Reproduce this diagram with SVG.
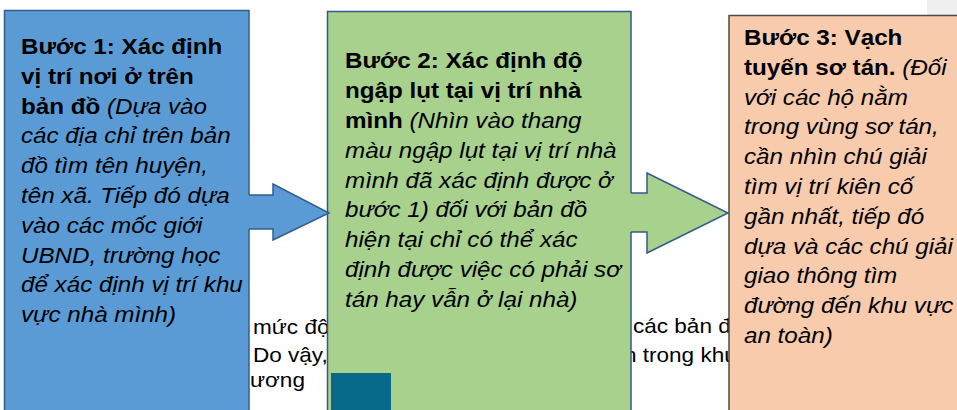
<svg xmlns="http://www.w3.org/2000/svg" width="957" height="410" viewBox="0 0 957 410">
<style>
text{font-family:"Liberation Sans",Arial,sans-serif;fill:#000}
.t{font-size:22px}
.bg{font-size:20.5px}
.b{font-weight:bold}
.i{font-style:italic}
.edge{stroke-width:1.5;stroke-linejoin:miter}
</style>
<rect width="957" height="410" fill="#ffffff"/>
<rect x="927" y="0" width="30" height="15" fill="#efefef"/>
<g id="background-text">
<g transform="translate(253,0) scale(1.1,1)"><text class="bg" x="0" y="334">mức độ</text><text class="bg" x="0" y="362">Do vậy,</text></g>
<g transform="translate(250,0) scale(1.1,1)"><text class="bg" x="0" y="387">ương</text></g>
<g transform="translate(633,0) scale(1.1,1)"><text class="bg" x="0" y="333">các bản đồ</text></g>
<g transform="translate(624,0) scale(1.1,1)"><text class="bg" x="0" y="362">n trong khu</text></g>
</g>
<g id="step1">
<rect x="4.5" y="10.5" width="244.5" height="410" fill="#5b9bd5" stroke="#2f5e8e" stroke-width="1.5"/>
<g transform="translate(21,0) scale(1.1,1)">
<text class="t"><tspan class="b" x="0" y="54">Bước 1: Xác định</tspan><tspan class="b" x="0" y="83.8">vị trí nơi ở trên</tspan><tspan x="0" y="113.6"><tspan class="b">bản đồ</tspan><tspan class="i"> (Dựa vào</tspan></tspan><tspan class="i" x="0" y="143.4">các địa chỉ trên bản</tspan><tspan class="i" x="0" y="173.2">đồ tìm tên huyện,</tspan><tspan class="i" x="0" y="203">tên xã. Tiếp đó dựa</tspan><tspan class="i" x="0" y="232.8">vào các mốc giới</tspan><tspan class="i" x="0" y="262.6">UBND, trường học</tspan><tspan class="i" x="0" y="292.4">để xác định vị trí khu</tspan><tspan class="i" x="0" y="322.2">vực nhà mình)</tspan></text>
</g>
</g>
<g id="step2">
<rect x="327.5" y="11.5" width="303.5" height="410" fill="#a9d18e" stroke="#2f5a8a" stroke-width="1.5"/>
<rect x="331" y="373" width="60" height="40" fill="#086a8a"/>
<g transform="translate(345,0) scale(1.1,1)">
<text class="t"><tspan class="b" x="0" y="68.5">Bước 2: Xác định độ</tspan><tspan class="b" x="0" y="98.3">ngập lụt tại vị trí nhà</tspan><tspan x="0" y="128.1"><tspan class="b">mình</tspan><tspan class="i"> (Nhìn vào thang</tspan></tspan><tspan class="i" x="0" y="157.9">màu ngập lụt tại vị trí nhà</tspan><tspan class="i" x="0" y="187.7">mình đã xác định được ở</tspan><tspan class="i" x="0" y="217.5">bước 1) đối với bản đồ</tspan><tspan class="i" x="0" y="247.3">hiện tại chỉ có thể xác</tspan><tspan class="i" x="0" y="277.1">định được việc có phải sơ</tspan><tspan class="i" x="0" y="306.9">tán hay vẫn ở lại nhà)</tspan></text>
</g>
</g>
<g id="step3">
<rect x="729" y="15.5" width="240" height="410" fill="#f8cbad" stroke="#4a4a4a" stroke-width="1.5"/>
<g transform="translate(744,0) scale(1.1,1)">
<text class="t"><tspan class="b" x="0" y="45">Bước 3: Vạch</tspan><tspan x="0" y="74.8"><tspan class="b">tuyến sơ tán.</tspan><tspan class="i"> (Đối</tspan></tspan><tspan class="i" x="0" y="104.6">với các hộ nằm</tspan><tspan class="i" x="0" y="134.4">trong vùng sơ tán,</tspan><tspan class="i" x="0" y="164.2">cần nhìn chú giải</tspan><tspan class="i" x="0" y="194">tìm vị trí kiên cố</tspan><tspan class="i" x="0" y="223.8">gần nhất, tiếp đó</tspan><tspan class="i" x="0" y="253.6">dựa và các chú giải</tspan><tspan class="i" x="0" y="283.4">giao thông tìm</tspan><tspan class="i" x="0" y="313.2">đường đến khu vực</tspan><tspan class="i" x="0" y="343">an toàn)</tspan></text>
</g>
</g>
<g id="connectors">
<g id="arrow-1-2">
<polygon points="248,195 273,195 273,184 329,213 273,240 273,229 248,229" fill="#5b9bd5"/>
<polyline class="edge" points="249,195 273,195 273,184 329,213 273,240 273,229 249,229" fill="none" stroke="#2f5e8e"/>
</g>
<g id="arrow-2-3">
<polygon points="630,193 647,193 647,173 728,213 647,253 647,232 630,232" fill="#a9d18e"/>
<polyline class="edge" points="631,193 647,193 647,173 728,213 647,253 647,232 631,232" fill="none" stroke="#2f5a8a"/>
</g>
</g>
</svg>
